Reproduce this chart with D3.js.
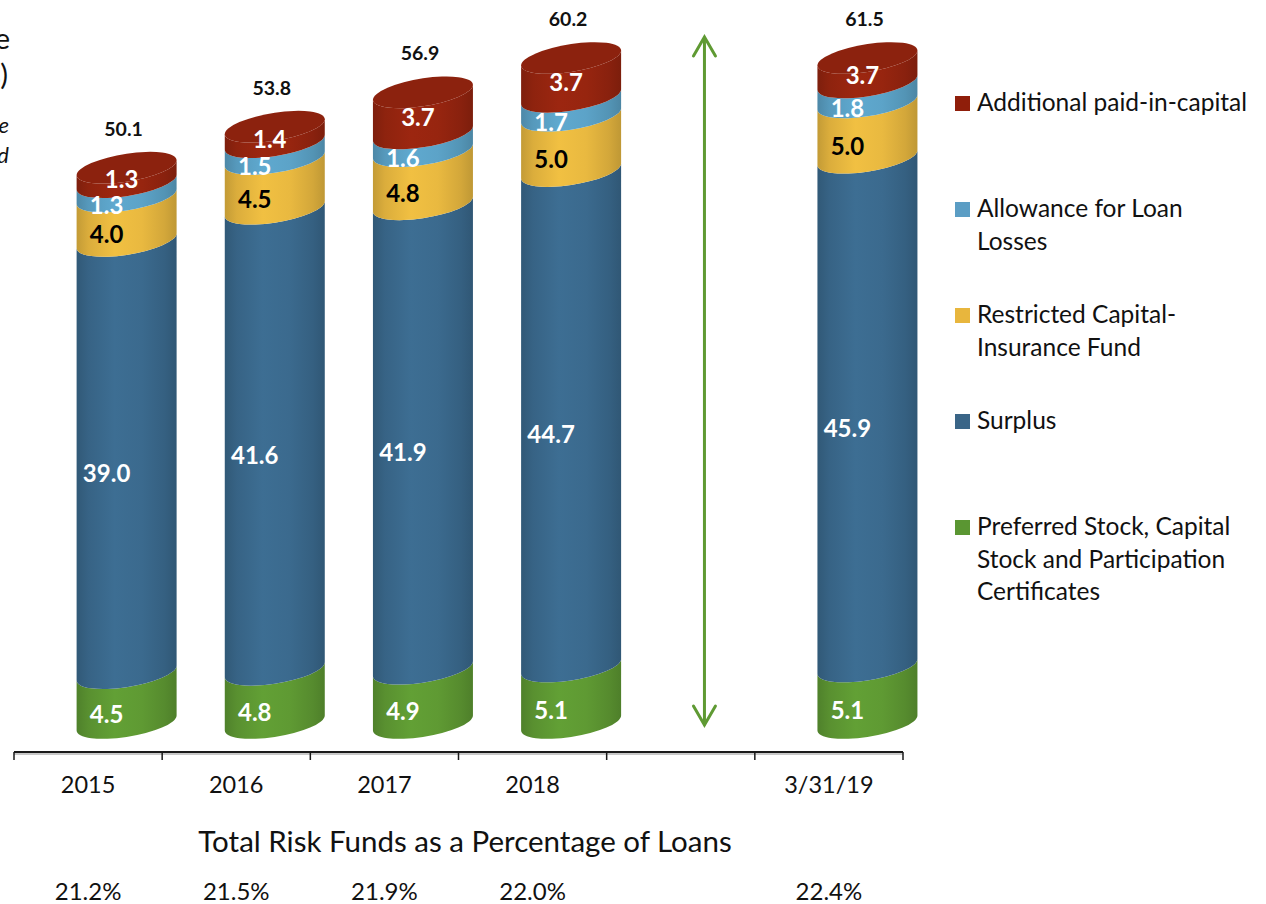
<!DOCTYPE html>
<html>
<head>
<meta charset="utf-8">
<script src="https://cdn.jsdelivr.net/npm/d3@7"></script>
<style>
  html, body { margin: 0; padding: 0; background: #ffffff; }
  svg { display: block; font-family: Lato, "Open Sans", sans-serif; }
</style>
</head>
<body>
<svg id="chart" width="1266" height="904"></svg>
<script>
// Risk fund components by period ($), stacked bottom to top
const categories = ["2015", "2016", "2017", "2018", "", "3/31/19"];
const preferredStock = [4.5, 4.8, 4.9, 5.1, null, 5.1];
const surplus        = [39.0, 41.6, 41.9, 44.7, null, 45.9];
const restrictedCap  = [4.0, 4.5, 4.8, 5.0, null, 5.0];
const loanAllowance  = [1.3, 1.5, 1.6, 1.7, null, 1.8];
const paidInCapital  = [1.3, 1.4, 3.7, 3.7, null, 3.7];
const riskFundPct    = ["21.2%", "21.5%", "21.9%", "22.0%", "", "22.4%"];
const valueAxisMax   = 60;

const seriesNames = [
  "Preferred Stock, Capital Stock and Participation Certificates",
  "Surplus",
  "Restricted Capital-Insurance Fund",
  "Allowance for Loan Losses",
  "Additional paid-in-capital"
];
const seriesValues = [preferredStock, surplus, restrictedCap, loanAllowance, paidInCapital];
const seriesColors = ["#5f9a33", "#3b6a8e", "#e9b940", "#5ca3c8", "#97250f"];
const labelColors  = ["#ffffff", "#ffffff", "#000000", "#ffffff", "#ffffff"];

// Legend entries (top to bottom) with manual line breaks
const legendLines = [
  ["Additional paid-in-capital"],
  ["Allowance for Loan", "Losses"],
  ["Restricted Capital-", "Insurance Fund"],
  ["Surplus"],
  ["Preferred Stock, Capital", "Stock and Participation", "Certificates"]
];
const legendColors = ["#8f1e0a", "#5b9dc4", "#e8b63d", "#3a6587", "#5a9632"];

const svg = d3.select("#chart");
const defs = svg.append("defs");

const x = d3.scaleBand().domain(categories).range([14, 903]).paddingInner(0).paddingOuter(0);
const y = d3.scaleLinear().domain([0, valueAxisMax]).range([723, 58]);

const rx = 50, ry = 14;
const tiltDeg = -8.5;
const cylOffset = x.bandwidth() * 0.26;

// Horizontal shading for the cylinder walls
seriesColors.forEach((c, i) => {
  const base = d3.color(c);
  const g = defs.append("linearGradient").attr("id", "side" + i)
    .attr("x1", "0%").attr("x2", "100%").attr("y1", "0%").attr("y2", "0%");
  const stops = [[0, 0.5], [0.12, 0.18], [0.38, -0.1], [0.65, 0], [0.88, 0.28], [1, 0.55]];
  stops.forEach(([o, k]) => {
    const col = k >= 0 ? base.darker(k) : base.brighter(-k);
    g.append("stop").attr("offset", (o * 100) + "%").attr("stop-color", col.formatHex());
  });
});

// Left-side heading (mostly outside the drawing area)
const heading = svg.append("g").attr("text-anchor", "end").attr("fill", "#111");
heading.append("text").attr("x", 10).attr("y", 49).attr("font-size", 29)
  .text("Total Risk Funds Continue to Increase");
heading.append("text").attr("x", 8).attr("y", 85).attr("font-size", 29)
  .text("($ in millions)");
heading.append("text").attr("x", 9).attr("y", 133).attr("font-size", 22).attr("font-style", "italic")
  .text("Amounts shown as of each year-end date");
heading.append("text").attr("x", 9).attr("y", 163).attr("font-size", 22).attr("font-style", "italic")
  .text("or quarter-end date where indicated");

// Cylinders
const cols = categories.map((cat, ci) => {
  if (preferredStock[ci] == null) return null;
  let acc = 0;
  const segs = seriesValues.map((arr, si) => {
    const v0 = acc, v1 = acc + arr[ci];
    acc = v1;
    return { si, value: arr[ci], v0: Math.min(v0, valueAxisMax), v1: Math.min(v1, valueAxisMax) };
  });
  return { cat, ci, total: acc, segs, cx: x(cat) + x.bandwidth() / 2 + cylOffset };
}).filter(d => d);

const cylG = svg.append("g");
cols.forEach(col => {
  const g = cylG.append("g").attr("transform", `translate(${col.cx},0) skewY(${tiltDeg})`);
  col.segs.forEach(s => {
    const yb = y(s.v0), yt = y(s.v1);
    g.append("path")
      .attr("d", `M${-rx},${yt} A${rx},${ry} 0 0 0 ${rx},${yt} L${rx},${yb} A${rx},${ry} 0 0 1 ${-rx},${yb} Z`)
      .attr("fill", `url(#side${s.si})`);
  });
  const top = col.segs[col.segs.length - 1];
  g.append("ellipse").attr("cx", 0).attr("cy", y(top.v1)).attr("rx", rx).attr("ry", ry)
    .attr("fill", d3.color(seriesColors[top.si]).darker(0.22).formatHex());
});

// Segment labels
const lblG = svg.append("g").attr("font-weight", 700).attr("font-size", 24).attr("dominant-baseline", "central").attr("text-anchor", "middle");
cols.forEach(col => {
  col.segs.forEach((s, k) => {
    const isTop = k === col.segs.length - 1;
    const mid = (s.v0 + s.v1) / 2;
    lblG.append("text")
      .attr("x", col.cx + (isTop ? -5 : -20))
      .attr("y", y(mid) + (isTop ? 4 : 15))
      .attr("fill", labelColors[s.si])
      .text(d3.format(".1f")(s.value));
  });
});

// Totals above each cylinder
const totG = svg.append("g").attr("font-weight", 700).attr("font-size", 19.5).attr("text-anchor", "middle").attr("fill", "#111");
cols.forEach(col => {
  totG.append("text")
    .attr("x", col.cx - 3)
    .attr("y", y(Math.min(col.total, valueAxisMax)) - 32)
    .text(d3.format(".1f")(col.total));
});

// Two-headed arrow in the gap
const arrowX = x("") + x.bandwidth() * 0.66;
const arrowTop = y(valueAxisMax) - 21, arrowBot = y(0) + 2;
const arr = svg.append("g").attr("stroke", "#5f9a33").attr("stroke-width", 3).attr("fill", "none").attr("stroke-linecap", "round");
arr.append("line").attr("x1", arrowX).attr("x2", arrowX).attr("y1", arrowTop + 1).attr("y2", arrowBot - 1);
arr.append("path").attr("d", `M${arrowX - 11},${arrowTop + 19} L${arrowX},${arrowTop} L${arrowX + 11},${arrowTop + 19}`);
arr.append("path").attr("d", `M${arrowX - 11},${arrowBot - 19} L${arrowX},${arrowBot} L${arrowX + 11},${arrowBot - 19}`);

// Category axis
const axisY = 752;
svg.append("line").attr("x1", 14).attr("x2", 903).attr("y1", axisY + 2).attr("y2", axisY + 2)
  .attr("stroke", "#c8c8c8").attr("stroke-width", 2);
const axis = d3.axisBottom(x).tickSize(0).tickPadding(0);
const axG = svg.append("g").attr("transform", `translate(0,${axisY})`).call(axis);
axG.select(".domain").attr("stroke", "#1a1a1a").attr("stroke-width", 2).attr("d", "M14,0H903");
axG.selectAll(".tick text").attr("font-family", "Lato, sans-serif").attr("font-size", 23.5).attr("fill", "#111")
  .attr("dy", null).attr("y", 41);
const tickXs = categories.map(c => x(c)).concat([x.range()[1]]);
svg.append("g").selectAll("line").data(tickXs).join("line")
  .attr("x1", d => d).attr("x2", d => d).attr("y1", axisY).attr("y2", axisY + 8)
  .attr("stroke", "#1a1a1a").attr("stroke-width", 1.5);

// Risk funds as a percentage of loans
svg.append("text").attr("x", 465).attr("y", 852).attr("text-anchor", "middle")
  .attr("font-size", 29.5).attr("fill", "#111").text("Total Risk Funds as a Percentage of Loans");
svg.append("g").selectAll("text").data(categories).join("text")
  .attr("x", c => x(c) + x.bandwidth() / 2)
  .attr("y", 900).attr("text-anchor", "middle").attr("font-size", 24).attr("fill", "#111")
  .text((c, i) => riskFundPct[i]);

// Legend
const leg = svg.append("g");
legendLines.forEach((lines, i) => {
  const cy = 103 + i * 106;
  leg.append("rect").attr("x", 955).attr("y", cy - 7).attr("width", 15).attr("height", 15).attr("fill", legendColors[i]);
  lines.forEach((t, j) => {
    leg.append("text").attr("x", 977).attr("y", cy + 8 + j * 32.5).attr("font-size", 24.5).attr("fill", "#111").text(t);
  });
});
</script>
</body>
</html>
